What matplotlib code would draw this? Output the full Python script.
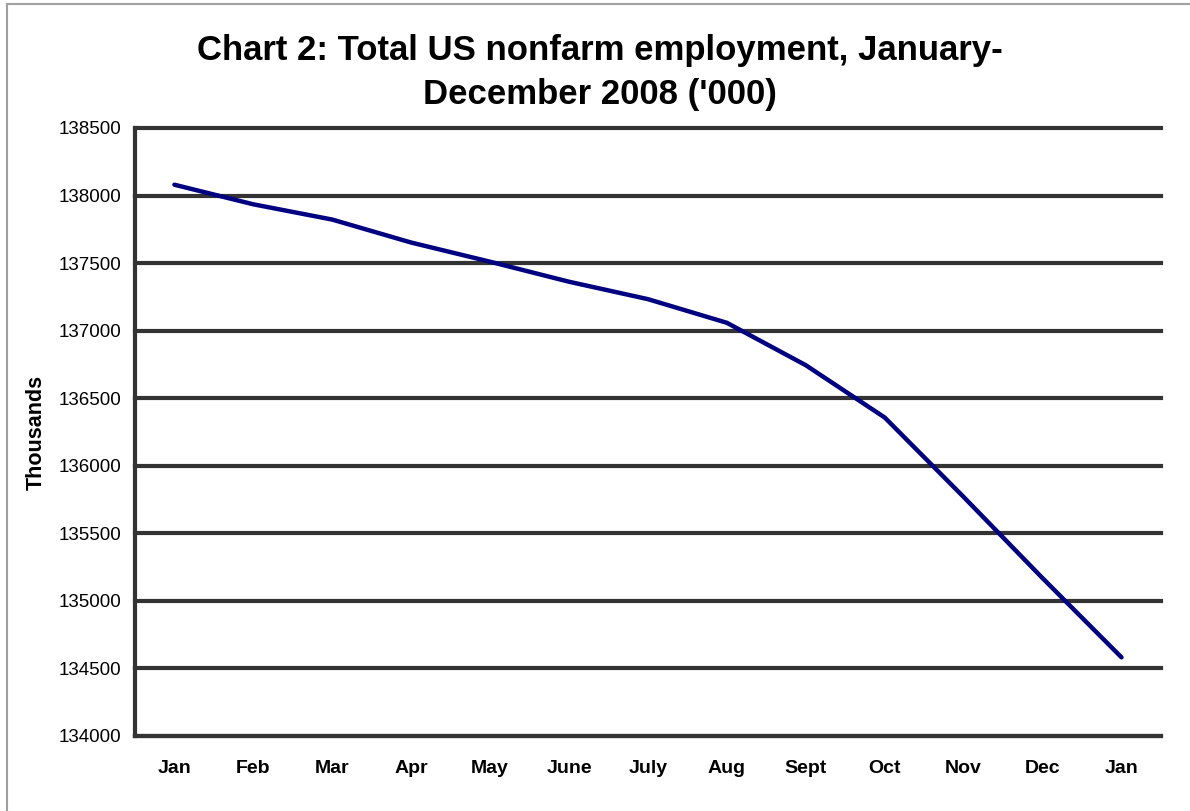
import matplotlib.pyplot as plt
from matplotlib.lines import Line2D

# Monthly nonfarm payroll employment, thousands
months = ["Jan", "Feb", "Mar", "Apr", "May", "June", "July",
          "Aug", "Sept", "Oct", "Nov", "Dec", "Jan"]
employment = [138080, 137935, 137822, 137652, 137510, 137362, 137233,
              137058, 136744, 136357, 135769, 135168, 134582]
y_ticks = list(range(134000, 138501, 500))

plt.rcParams["font.family"] = ["Liberation Sans", "DejaVu Sans"]

fig = plt.figure(figsize=(11.9, 8.11), dpi=100)
ax = fig.add_axes([0.1134, 0.0925, 0.8622, 0.7497])

x = list(range(len(months)))
ax.plot(x, employment, color="#000080", linewidth=3.2,
        solid_capstyle="round", solid_joinstyle="miter", zorder=3)

ax.set_xlim(-0.5, len(months) - 0.5)
ax.set_ylim(y_ticks[0], y_ticks[-1])
ax.set_yticks(y_ticks)
ax.set_yticklabels([str(v) for v in y_ticks], fontsize=13.5)
ax.set_xticks(x)
ax.set_xticklabels(months, fontsize=14, fontweight="bold")
ax.tick_params(axis="both", length=0)
ax.tick_params(axis="y", pad=10)
ax.tick_params(axis="x", pad=17)

ax.grid(axis="y", color="#333333", linewidth=3.0)
for gl in ax.get_ygridlines():
    gl.set_clip_on(False)
ax.set_axisbelow(True)
for side in ("top", "right"):
    ax.spines[side].set_visible(False)
for side in ("left", "bottom"):
    ax.spines[side].set_color("#333333")
    ax.spines[side].set_linewidth(3.0)

ax.set_ylabel("Thousands", fontsize=15.5, fontweight="bold", labelpad=8)

fig.text(0.504, 0.9106, "Chart 2: Total US nonfarm employment, January-\nDecember 2008 ('000)",
         ha="center", va="center", fontsize=25, fontweight="bold",
         linespacing=1.42)

# thin grey frame along the top and left edges
fig.add_artist(Line2D([0.0063, 0.0063], [0, 0.995], transform=fig.transFigure,
                      color="#a0a0a0", linewidth=1.5))
fig.add_artist(Line2D([0.0063, 1], [0.995, 0.995], transform=fig.transFigure,
                      color="#a0a0a0", linewidth=1.5))

fig.savefig("out.png", dpi=100)
